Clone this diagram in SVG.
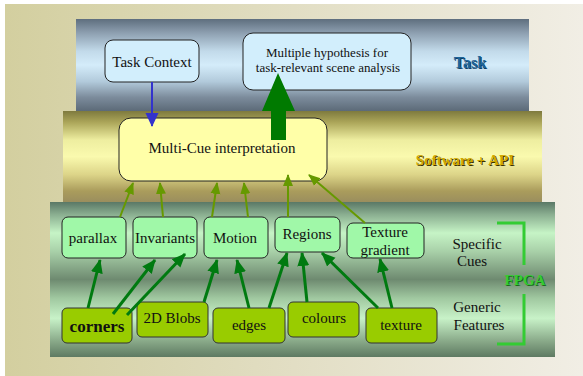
<svg xmlns="http://www.w3.org/2000/svg" width="583" height="376" viewBox="0 0 583 376">
<defs>
<linearGradient id="bg" x1="0" y1="0" x2="1" y2="0">
<stop offset="0" stop-color="#d3cf9f"/>
<stop offset="0.5" stop-color="#e2dec4"/>
<stop offset="1" stop-color="#f1eee5"/>
</linearGradient>
<linearGradient id="taskG" x1="0" y1="0" x2="0" y2="1">
<stop offset="0" stop-color="#5e6e7e"/>
<stop offset="0.15" stop-color="#8d9fb0"/>
<stop offset="0.35" stop-color="#c2daea"/>
<stop offset="0.5" stop-color="#d4ecfa"/>
<stop offset="0.68" stop-color="#b2cadb"/>
<stop offset="0.85" stop-color="#7c8c9c"/>
<stop offset="1" stop-color="#5c6a78"/>
</linearGradient>
<linearGradient id="swG" x1="0" y1="0" x2="0" y2="1">
<stop offset="0" stop-color="#7e7a3e"/>
<stop offset="0.12" stop-color="#aaa458"/>
<stop offset="0.32" stop-color="#eeeea0"/>
<stop offset="0.5" stop-color="#fafaae"/>
<stop offset="0.7" stop-color="#dcd488"/>
<stop offset="0.88" stop-color="#aa9c5c"/>
<stop offset="1" stop-color="#9a8e5e"/>
</linearGradient>
<linearGradient id="fpG" x1="0" y1="0" x2="0" y2="1">
<stop offset="0" stop-color="#5a7866"/>
<stop offset="0.08" stop-color="#8aae90"/>
<stop offset="0.2" stop-color="#c6f4c6"/>
<stop offset="0.32" stop-color="#a8d0a8"/>
<stop offset="0.5" stop-color="#6e8a70"/>
<stop offset="0.62" stop-color="#a0c8a0"/>
<stop offset="0.75" stop-color="#c8f2c8"/>
<stop offset="0.9" stop-color="#88a888"/>
<stop offset="1" stop-color="#5e7a62"/>
</linearGradient>
<marker id="ahB" markerUnits="userSpaceOnUse" markerWidth="14" markerHeight="14" viewBox="0 0 14 14" refX="13" refY="7" orient="auto">
<path d="M0,0.5 L14,7 L0,13.5 z" fill="#3333cc"/>
</marker>
<marker id="ahO" markerUnits="userSpaceOnUse" markerWidth="12" markerHeight="12" viewBox="0 0 12 12" refX="11" refY="6" orient="auto">
<path d="M0,1 L12,6 L0,11 z" fill="#669900"/>
</marker>
<marker id="ahG" markerUnits="userSpaceOnUse" markerWidth="14" markerHeight="14" viewBox="0 0 14 14" refX="13" refY="7" orient="auto">
<path d="M0,1 L14,7 L0,13 z" fill="#007a10"/>
</marker>
</defs>
<style>
.t{font-family:"Liberation Serif","Times New Roman",serif;font-size:15px;fill:#111;text-anchor:middle}
.cue{fill:#a0f8a8;stroke:#222;stroke-width:1}
.feat{fill:#99cc00;stroke:#333;stroke-width:1}
.upO{stroke:#669900;stroke-width:2;fill:none;marker-end:url(#ahO)}
.upG{stroke:#007a10;stroke-width:3;fill:none;marker-end:url(#ahG)}
.br{stroke:#33cc33;stroke-width:3;fill:none}
</style>
<rect x="0" y="0" width="583" height="376" fill="#ffffff"/>
<rect x="5" y="4" width="578" height="372" fill="url(#bg)"/>
<g id="bands">
<rect x="76" y="19" width="453" height="92" fill="url(#taskG)"/>
<rect x="63" y="111" width="479" height="91" fill="url(#swG)"/>
<rect x="50" y="202" width="505" height="155" fill="url(#fpG)"/>
</g>
<g id="labels">
<text x="471" y="69" class="t" style="font-weight:bold;font-size:16px;fill:#0e3f66">Task</text>
<text x="470" y="68" class="t" style="font-weight:bold;font-size:16px;fill:#1e6498">Task</text>
<text x="466" y="166" class="t" style="font-weight:bold;font-size:15px;fill:#3a3000">Software + API</text>
<text x="465" y="165" class="t" style="font-weight:bold;font-size:15px;fill:#d0a800">Software + API</text>
<text x="477" y="249" class="t">Specific</text>
<text x="472" y="266" class="t">Cues</text>
<text x="477" y="312" class="t">Generic</text>
<text x="479" y="330" class="t">Features</text>
<text x="526" y="286" class="t" style="font-weight:bold;fill:#1a6a1a">FPGA</text>
<text x="525" y="285" class="t" style="font-weight:bold;fill:#33cc33">FPGA</text>
<polyline class="br" points="497,223 524,223 524,265"/>
<polyline class="br" points="524,294 524,344 497,344"/>
</g>
<g id="taskContext">
<rect x="105" y="40" width="94" height="42" rx="8" fill="#d2eefc" stroke="#222"/>
<text x="152" y="67" class="t">Task Context</text>
</g>
<g id="hypothesis">
<rect x="243" y="33" width="168" height="57" rx="10" fill="#d2eefc" stroke="#222"/>
<text x="327" y="57" class="t" style="font-size:13px">Multiple hypothesis for</text>
<text x="328" y="72" class="t" style="font-size:13px">task-relevant scene analysis</text>
</g>
<g id="multiCue">
<rect x="119" y="118" width="208" height="63" rx="12" fill="#ffffa8" stroke="#222"/>
<text x="222" y="153" class="t">Multi-Cue interpretation</text>
</g>
<g id="parallax"><rect class="cue" x="62" y="217" width="64" height="41" rx="6"/><text x="93" y="243" class="t">parallax</text></g>
<g id="invariants"><rect class="cue" x="133" y="217" width="64" height="41" rx="6"/><text x="165" y="243" class="t">Invariants</text></g>
<g id="motion"><rect class="cue" x="204" y="217" width="64" height="41" rx="6"/><text x="235" y="243" class="t">Motion</text></g>
<g id="regions"><rect class="cue" x="275" y="217" width="65" height="35" rx="6"/><text x="307" y="239" class="t">Regions</text></g>
<g id="textureGradient"><rect class="cue" x="347" y="223" width="77" height="35" rx="6"/><text x="385" y="237" class="t">Texture</text><text x="385" y="255" class="t">gradient</text></g>
<g id="corners"><rect class="feat" x="62" y="308" width="70" height="35" rx="5"/><text x="97" y="332" class="t" style="font-weight:bold;font-size:17px">corners</text></g>
<g id="blobs"><rect class="feat" x="137" y="302" width="71" height="35" rx="5"/><text x="172" y="323" class="t">2D Blobs</text></g>
<g id="edges"><rect class="feat" x="213" y="308" width="72" height="35" rx="5"/><text x="249" y="330" class="t">edges</text></g>
<g id="colours"><rect class="feat" x="288" y="302" width="71" height="35" rx="5"/><text x="324" y="323" class="t">colours</text></g>
<g id="texture"><rect class="feat" x="366" y="308" width="71" height="35" rx="5"/><text x="401" y="330" class="t">texture</text></g>
<g id="connectors">
<line x1="152" y1="82" x2="152" y2="126" stroke="#3333cc" stroke-width="2" marker-end="url(#ahB)"/>
<polygon points="271,140 286,140 286,111 295,111 278,73 262,111 271,111" fill="#007a00"/>
<line class="upO" x1="120" y1="217" x2="133" y2="183"/>
<line class="upO" x1="163" y1="217" x2="160" y2="183"/>
<line class="upO" x1="212" y1="217" x2="217" y2="183"/>
<line class="upO" x1="248" y1="217" x2="244" y2="183"/>
<line class="upO" x1="288" y1="217" x2="288" y2="175"/>
<line class="upO" x1="365" y1="223" x2="309" y2="175"/>
<line class="upG" x1="88" y1="308" x2="100" y2="260"/>
<line class="upG" x1="113" y1="314" x2="155" y2="260"/>
<line class="upG" x1="127" y1="315" x2="185" y2="254"/>
<line class="upG" x1="204" y1="302" x2="217" y2="260"/>
<line class="upG" x1="249" y1="308" x2="237" y2="260"/>
<line class="upG" x1="269" y1="308" x2="287" y2="253"/>
<line class="upG" x1="307" y1="302" x2="302" y2="253"/>
<line class="upG" x1="378" y1="308" x2="322" y2="253"/>
<line class="upG" x1="392" y1="308" x2="380" y2="259"/>
</g>
</svg>
